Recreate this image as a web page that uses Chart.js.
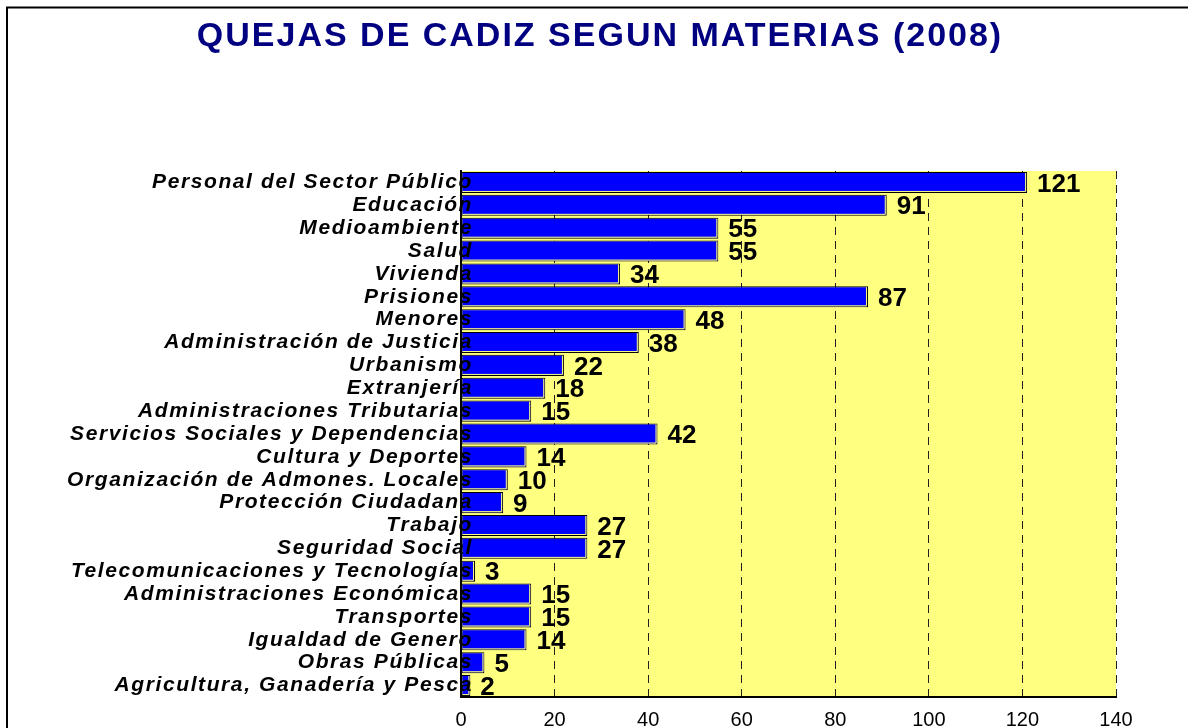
<!DOCTYPE html>
<html>
<head>
<meta charset="utf-8">
<script src="https://cdn.jsdelivr.net/npm/chart.js@4"></script>
<style>
html,body{margin:0;padding:0;background:#ffffff;}
#wrap{position:relative;width:1199px;height:728px;}
canvas{display:block;}
</style>
</head>
<body>
<div id="wrap"><canvas id="c" width="1199" height="728"></canvas></div>
<script>
const chartTitle = 'QUEJAS DE CADIZ SEGUN MATERIAS (2008)';
const categories = [
  'Personal del Sector Público',
  'Educación',
  'Medioambiente',
  'Salud',
  'Vivienda',
  'Prisiones',
  'Menores',
  'Administración de Justicia',
  'Urbanismo',
  'Extranjería',
  'Administraciones Tributarias',
  'Servicios Sociales y Dependencias',
  'Cultura y Deportes',
  'Organización de Admones. Locales',
  'Protección Ciudadana',
  'Trabajo',
  'Seguridad Social',
  'Telecomunicaciones y Tecnologías',
  'Administraciones Económicas',
  'Transportes',
  'Igualdad de Genero',
  'Obras Públicas',
  'Agricultura, Ganadería y Pesca'
];
const values = [121, 91, 55, 55, 34, 87, 48, 38, 22, 18, 15, 42, 14, 10, 9, 27, 27, 3, 15, 15, 14, 5, 2];
const xTicks = [0, 20, 40, 60, 80, 100, 120, 140];

const decor = {
  id: 'decor',
  beforeDraw(chart) {
    const ctx = chart.ctx, a = chart.chartArea;
    ctx.save();
    ctx.fillStyle = '#ffffff';
    ctx.fillRect(0, 0, chart.width, chart.height);
    // outer frame (top and left)
    ctx.strokeStyle = '#000000';
    ctx.lineWidth = 2;
    ctx.beginPath();
    ctx.moveTo(7, 728);
    ctx.lineTo(7, 7.5);
    ctx.lineTo(1188, 7.5);
    ctx.stroke();
    // plot background
    ctx.fillStyle = '#FFFF80';
    ctx.fillRect(a.left, a.top, a.right - a.left, a.bottom - a.top);
    ctx.restore();
  },
  afterDatasetsDraw(chart) {
    const ctx = chart.ctx;
    const meta = chart.getDatasetMeta(0);
    ctx.save();
    // inner highlight of bars
    ctx.strokeStyle = '#FFFF80';
    ctx.lineWidth = 1;
    meta.data.forEach((el) => {
      const top = el.y - el.height / 2, bot = el.y + el.height / 2;
      ctx.beginPath();
      ctx.moveTo(el.base + 1, bot - 1.5);
      ctx.lineTo(el.x - 1.5, bot - 1.5);
      ctx.lineTo(el.x - 1.5, top + 1);
      ctx.stroke();
    });
    // value labels
    ctx.fillStyle = '#000000';
    ctx.font = 'bold 26px "Liberation Sans", Arial, sans-serif';
    ctx.textAlign = 'left';
    ctx.textBaseline = 'middle';
    meta.data.forEach((el, i) => {
      ctx.fillText(String(values[i]), el.x + 10, el.y + 2);
    });
    // category labels
    ctx.font = 'italic bold 21px "Liberation Sans", Arial, sans-serif';
    try { ctx.letterSpacing = '1.6px'; } catch (e) {}
    ctx.textAlign = 'right';
    const yScale = chart.scales.y;
    categories.forEach((c, i) => {
      ctx.fillText(c, 473, yScale.getPixelForValue(i));
    });
    ctx.restore();
  },
  afterDraw(chart) {
    const ctx = chart.ctx;
    ctx.save();
    ctx.fillStyle = '#000080';
    ctx.font = 'bold 34px "Liberation Sans", Arial, sans-serif';
    try { ctx.letterSpacing = '2px'; } catch (e) {}
    ctx.textAlign = 'center';
    ctx.textBaseline = 'alphabetic';
    ctx.fillText(chartTitle, 600, 46);
    ctx.restore();
  }
};

new Chart(document.getElementById('c'), {
  type: 'bar',
  data: {
    labels: categories,
    datasets: [{
      data: values,
      backgroundColor: '#0000FF',
      borderColor: '#000000',
      borderWidth: 1,
      borderSkipped: false,
      barPercentage: 0.92,
      categoryPercentage: 1.0
    }]
  },
  options: {
    indexAxis: 'y',
    responsive: false,
    animation: false,
    devicePixelRatio: 1,
    layout: { padding: { left: 0, right: 83, top: 171, bottom: 0 } },
    plugins: {
      legend: { display: false },
      title: { display: false },
      tooltip: { enabled: false }
    },
    scales: {
      x: {
        position: 'bottom',
        min: 0,
        max: 140,
        afterBuildTicks(scale) { scale.ticks = xTicks.map(v => ({ value: v })); },
        afterFit(scale) { scale.height = 31; },
        ticks: {
          color: '#000000',
          padding: 11,
          font: { family: '"Liberation Sans", Arial, sans-serif', size: 20 },
          maxRotation: 0
        },
        grid: { color: '#222222', lineWidth: 1, drawTicks: false },
        border: { display: true, color: '#000000', width: 2, dash: [8, 6] }
      },
      y: {
        type: 'category',
        afterFit(scale) { scale.width = 461; },
        ticks: { display: false },
        grid: { display: false, drawTicks: false },
        border: { display: true, color: '#000000', width: 2 }
      }
    }
  },
  plugins: [decor]
});
</script>
</body>
</html>
